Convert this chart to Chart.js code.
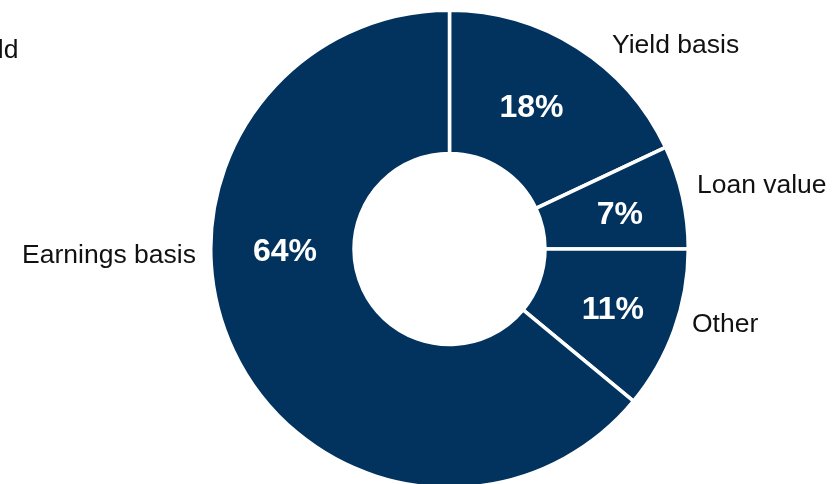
<!DOCTYPE html>
<html>
<head>
<meta charset="utf-8">
<script src="https://cdn.jsdelivr.net/npm/chart.js@4/dist/chart.umd.min.js"></script>
<style>
  html, body { margin: 0; padding: 0; background: #ffffff; }
  #wrap { width: 839px; height: 484px; position: relative; }
</style>
</head>
<body>
<div id="wrap"><canvas id="c" width="839" height="484"></canvas></div>
<script>
// ---- data ----
const categories = ["Yield basis", "Loan value", "Other", "Earnings basis"];
const shares = [18, 7, 11, 64];
const shareLabels = ["18%", "7%", "11%", "64%"];
const strayText = "Yield";

// ---- styling / layout (not data) ----
const NAVY = "#02335f";
const FONT = "'Liberation Sans', Arial, Helvetica, sans-serif";
// offsets from doughnut centre, in units of drawn outer radius (237px)
const pctPos = [[0.346, -0.557], [0.719, -0.105], [0.689, 0.295], [-0.694, 0.051]];
const catPos = [
  [0.954, -0.827, "center"],
  [1.044, -0.236, "left"],
  [1.023, 0.350, "left"],
  [-1.070, 0.059, "right"]
];

const labelPlugin = {
  id: "labels",
  afterDraw(chart) {
    const ctx = chart.ctx;
    const meta = chart.getDatasetMeta(0);
    const a0 = meta.data[0];
    const cx = a0.x, cy = a0.y;
    const R = 237;
    ctx.save();
    ctx.textBaseline = "alphabetic";
    // percentages
    ctx.fillStyle = "#ffffff";
    ctx.font = "bold 32px " + FONT;
    ctx.textAlign = "center";
    meta.data.forEach((arc, i) => {
      ctx.fillText(shareLabels[i], cx + pctPos[i][0] * R, cy + pctPos[i][1] * R);
    });
    // category names
    ctx.fillStyle = "#111111";
    ctx.font = "26.5px " + FONT;
    categories.forEach((name, i) => {
      ctx.textAlign = catPos[i][2];
      ctx.fillText(name, cx + catPos[i][0] * R, cy + catPos[i][1] * R);
    });
    // clipped text from neighbouring panel
    ctx.textAlign = "right";
    ctx.fillText(strayText, 18.5, 58);
    ctx.restore();
  }
};

new Chart(document.getElementById("c"), {
  type: "doughnut",
  data: {
    labels: categories,
    datasets: [{
      data: shares,
      backgroundColor: NAVY,
      borderColor: "#ffffff",
      borderWidth: 3.5,
      hoverOffset: 0,
      clip: false
    }]
  },
  options: {
    responsive: false,
    animation: false,
    radius: 238.75,
    cutout: "40%",
    layout: { padding: { left: 60, right: 0, top: 14, bottom: 0 } },
    plugins: {
      legend: { display: false },
      tooltip: { enabled: false }
    },
    events: []
  },
  plugins: [labelPlugin]
});
</script>
</body>
</html>
